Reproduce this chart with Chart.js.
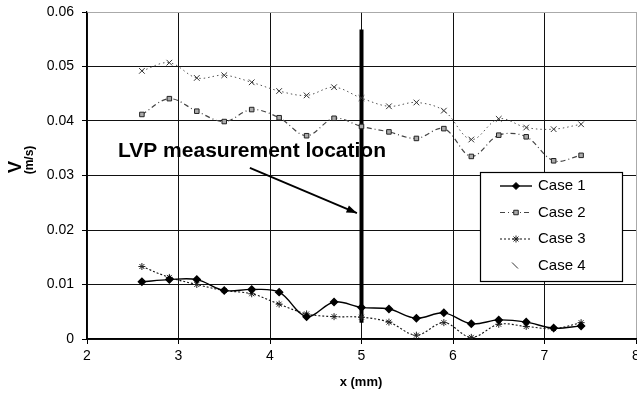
<!DOCTYPE html>
<html>
<head>
<meta charset="utf-8">
<script src="https://cdn.jsdelivr.net/npm/chart.js@4.4.0/dist/chart.umd.min.js"></script>
<style>
  html, body { margin: 0; padding: 0; background: #fff; }
  canvas { display: block; }
</style>
</head>
<body>
<canvas id="myChart" width="637" height="408"></canvas>
<script>
// x positions (mm) shared by all four cases
const xValues = [2.6, 2.9, 3.2, 3.5, 3.8, 4.1, 4.4, 4.7, 5.0, 5.3, 5.6, 5.9, 6.2, 6.5, 6.8, 7.1, 7.4];

const case1 = [0.0105, 0.0109, 0.0109, 0.0089, 0.0091, 0.0086, 0.0041, 0.0068, 0.0058, 0.0055, 0.0038, 0.0048, 0.0028, 0.0035, 0.0031, 0.0020, 0.0024];
const case2 = [0.0412, 0.0441, 0.0418, 0.0399, 0.0421, 0.0406, 0.0373, 0.0405, 0.0390, 0.0380, 0.0368, 0.0386, 0.0335, 0.0374, 0.0371, 0.0327, 0.0337];
const case3 = [0.0133, 0.0113, 0.0100, 0.0089, 0.0083, 0.0064, 0.0046, 0.0041, 0.0040, 0.0031, 0.0007, 0.0030, 0.0003, 0.0027, 0.0023, 0.0019, 0.0030];
const case4 = [0.0492, 0.0507, 0.0479, 0.0484, 0.0471, 0.0455, 0.0447, 0.0462, 0.0442, 0.0427, 0.0434, 0.0419, 0.0366, 0.0404, 0.0388, 0.0385, 0.0394];

const caseLabels = ['Case 1', 'Case 2', 'Case 3', 'Case 4'];

// LVP marker line
const lvpX = [5, 5];
const lvpY = [0.003, 0.0568];
const lvpText = 'LVP measurement location';
// arrow from (x, y) to (x, y) in data units
const arrowX = [3.78, 4.95];
const arrowY = [0.0314, 0.0231];

const xTicks = [2, 3, 4, 5, 6, 7, 8];
const yTicks = [0, 0.01, 0.02, 0.03, 0.04, 0.05, 0.06];

const FONT = '"Liberation Sans", Arial, sans-serif';

function pts(ys) {
    return xValues.map((x, i) => ({ x: x, y: ys[i] }));
}

const data = {
    datasets: [
        {
            label: caseLabels[0], data: pts(case1),
            borderColor: '#000', borderWidth: 1.4, borderDash: [],
            pointStyle: 'rectRot', pointRadius: 3.5, pointBackgroundColor: '#000', pointBorderColor: '#000',
            tension: 0.35
        },
        {
            label: caseLabels[1], data: pts(case2),
            borderColor: '#444', borderWidth: 1.2, borderDash: [5, 3, 1, 3],
            pointStyle: 'rect', pointRadius: 3.2, pointBackgroundColor: '#aaa', pointBorderColor: '#222', pointBorderWidth: 1,
            tension: 0.35
        },
        {
            label: caseLabels[2], data: pts(case3),
            borderColor: '#111', borderWidth: 1.1, borderDash: [2, 2],
            pointStyle: 'star', pointRadius: 3.5, pointBackgroundColor: '#000', pointBorderColor: '#222', pointBorderWidth: 1,
            tension: 0.35
        },
        {
            label: caseLabels[3], data: pts(case4),
            borderColor: '#555', borderWidth: 1, borderDash: [1.5, 3],
            pointStyle: 'crossRot', pointRadius: 4, pointBorderColor: '#333', pointBorderWidth: 1,
            tension: 0.35
        },
        {
            label: 'LVP', data: lvpX.map((x, i) => ({ x: x, y: lvpY[i] })),
            borderColor: '#000', borderWidth: 4, pointRadius: 0, tension: 0
        }
    ]
};

const decorations = {
    id: 'decorations',
    afterDraw(chart) {
        const ctx = chart.ctx;
        const xs = chart.scales.x, ys = chart.scales.y;
        ctx.save();
        ctx.fillStyle = '#000';
        ctx.strokeStyle = '#000';

        // annotation text
        ctx.font = 'bold 21px ' + FONT;
        ctx.textAlign = 'left';
        ctx.textBaseline = 'alphabetic';
        ctx.fillText(lvpText, 118, 157);

        // arrow
        const x1 = xs.getPixelForValue(arrowX[0]), y1 = ys.getPixelForValue(arrowY[0]);
        const x2 = xs.getPixelForValue(arrowX[1]), y2 = ys.getPixelForValue(arrowY[1]);
        ctx.lineWidth = 1.8;
        ctx.beginPath(); ctx.moveTo(x1, y1); ctx.lineTo(x2, y2); ctx.stroke();
        const ang = Math.atan2(y2 - y1, x2 - x1);
        ctx.beginPath();
        ctx.moveTo(x2, y2);
        ctx.lineTo(x2 - 11 * Math.cos(ang - 0.35), y2 - 11 * Math.sin(ang - 0.35));
        ctx.lineTo(x2 - 11 * Math.cos(ang + 0.35), y2 - 11 * Math.sin(ang + 0.35));
        ctx.closePath(); ctx.fill();

        // legend box
        const bx = 480, by = 172, bw = 142, bh = 109;
        ctx.fillStyle = '#fff';
        ctx.fillRect(bx, by, bw, bh);
        ctx.lineWidth = 1.2;
        ctx.strokeStyle = '#000';
        ctx.strokeRect(bx + 0.5, by + 0.5, bw, bh);
        ctx.font = '15px ' + FONT;
        ctx.textBaseline = 'middle';
        for (let i = 0; i < 4; i++) {
            const ds = chart.data.datasets[i];
            const cy = 186 + i * 26.5;
            if (i !== 3) {
                ctx.strokeStyle = ds.borderColor;
                ctx.lineWidth = ds.borderWidth;
                ctx.setLineDash(ds.borderDash || []);
                ctx.beginPath(); ctx.moveTo(500, cy); ctx.lineTo(532, cy); ctx.stroke();
                ctx.setLineDash([]);
                ctx.fillStyle = ds.pointBackgroundColor;
                ctx.strokeStyle = ds.pointBorderColor;
                ctx.lineWidth = ds.pointBorderWidth || 1;
                Chart.helpers.drawPoint(ctx, {
                    pointStyle: ds.pointStyle, radius: ds.pointRadius, rotation: 0,
                    borderWidth: ds.pointBorderWidth || 1
                }, 516, cy);
            } else {
                ctx.strokeStyle = '#333';
                ctx.lineWidth = 1;
                ctx.beginPath(); ctx.moveTo(512, cy - 3); ctx.lineTo(518, cy + 3); ctx.stroke();
            }
            ctx.fillStyle = '#000';
            ctx.fillText(ds.label, 538, cy);
        }

        // axis titles
        ctx.textAlign = 'center';
        ctx.font = 'bold 13px ' + FONT;
        ctx.fillText('x (mm)', 361, 382);
        ctx.save();
        ctx.translate(16, 167);
        ctx.rotate(-Math.PI / 2);
        ctx.font = 'bold 18px ' + FONT;
        ctx.fillText('V', 0, 0);
        ctx.restore();
        ctx.save();
        ctx.translate(30, 160);
        ctx.rotate(-Math.PI / 2);
        ctx.font = 'bold 12px ' + FONT;
        ctx.fillText('(m/s)', 0, 0);
        ctx.restore();
        ctx.restore();
    }
};

const config = {
    type: 'scatter',
    data: data,
    options: {
        responsive: false,
        animation: false,
        showLine: true,
        layout: { autoPadding: false, padding: { top: 12, right: 1, left: 0, bottom: 0 } },
        plugins: { legend: { display: false }, tooltip: { enabled: false } },
        scales: {
            x: {
                type: 'linear', min: 2, max: 8,
                afterFit: (s) => { s.height = 69; s.paddingLeft = 0; s.paddingRight = 0; },
                afterBuildTicks: (s) => { s.ticks = xTicks.map(v => ({ value: v })); },
                ticks: { color: '#000', font: { family: FONT, size: 14 }, padding: 4, callback: (v) => String(v) },
                grid: {
                    color: (c) => c.tick && c.tick.value === 8 ? '#aaa' : '#111',
                    lineWidth: 1, tickLength: 5, tickColor: '#000'
                },
                border: { color: '#000', width: 1.2 }
            },
            y: {
                type: 'linear', min: 0, max: 0.06,
                afterFit: (s) => { s.width = 87; s.paddingTop = 0; s.paddingBottom = 0; },
                afterBuildTicks: (s) => { s.ticks = yTicks.map(v => ({ value: v })); },
                ticks: { color: '#000', font: { family: FONT, size: 14 }, padding: 8, callback: (v) => v === 0 ? '0' : v.toFixed(2) },
                grid: {
                    color: (c) => c.tick && Math.abs(c.tick.value - 0.06) < 1e-9 ? '#aaa' : '#111',
                    lineWidth: 1, tickLength: 5, tickColor: '#000'
                },
                border: { color: '#000', width: 1.2 }
            }
        }
    },
    plugins: [decorations]
};

const myChart = new Chart(document.getElementById('myChart'), config);
</script>
</body>
</html>
